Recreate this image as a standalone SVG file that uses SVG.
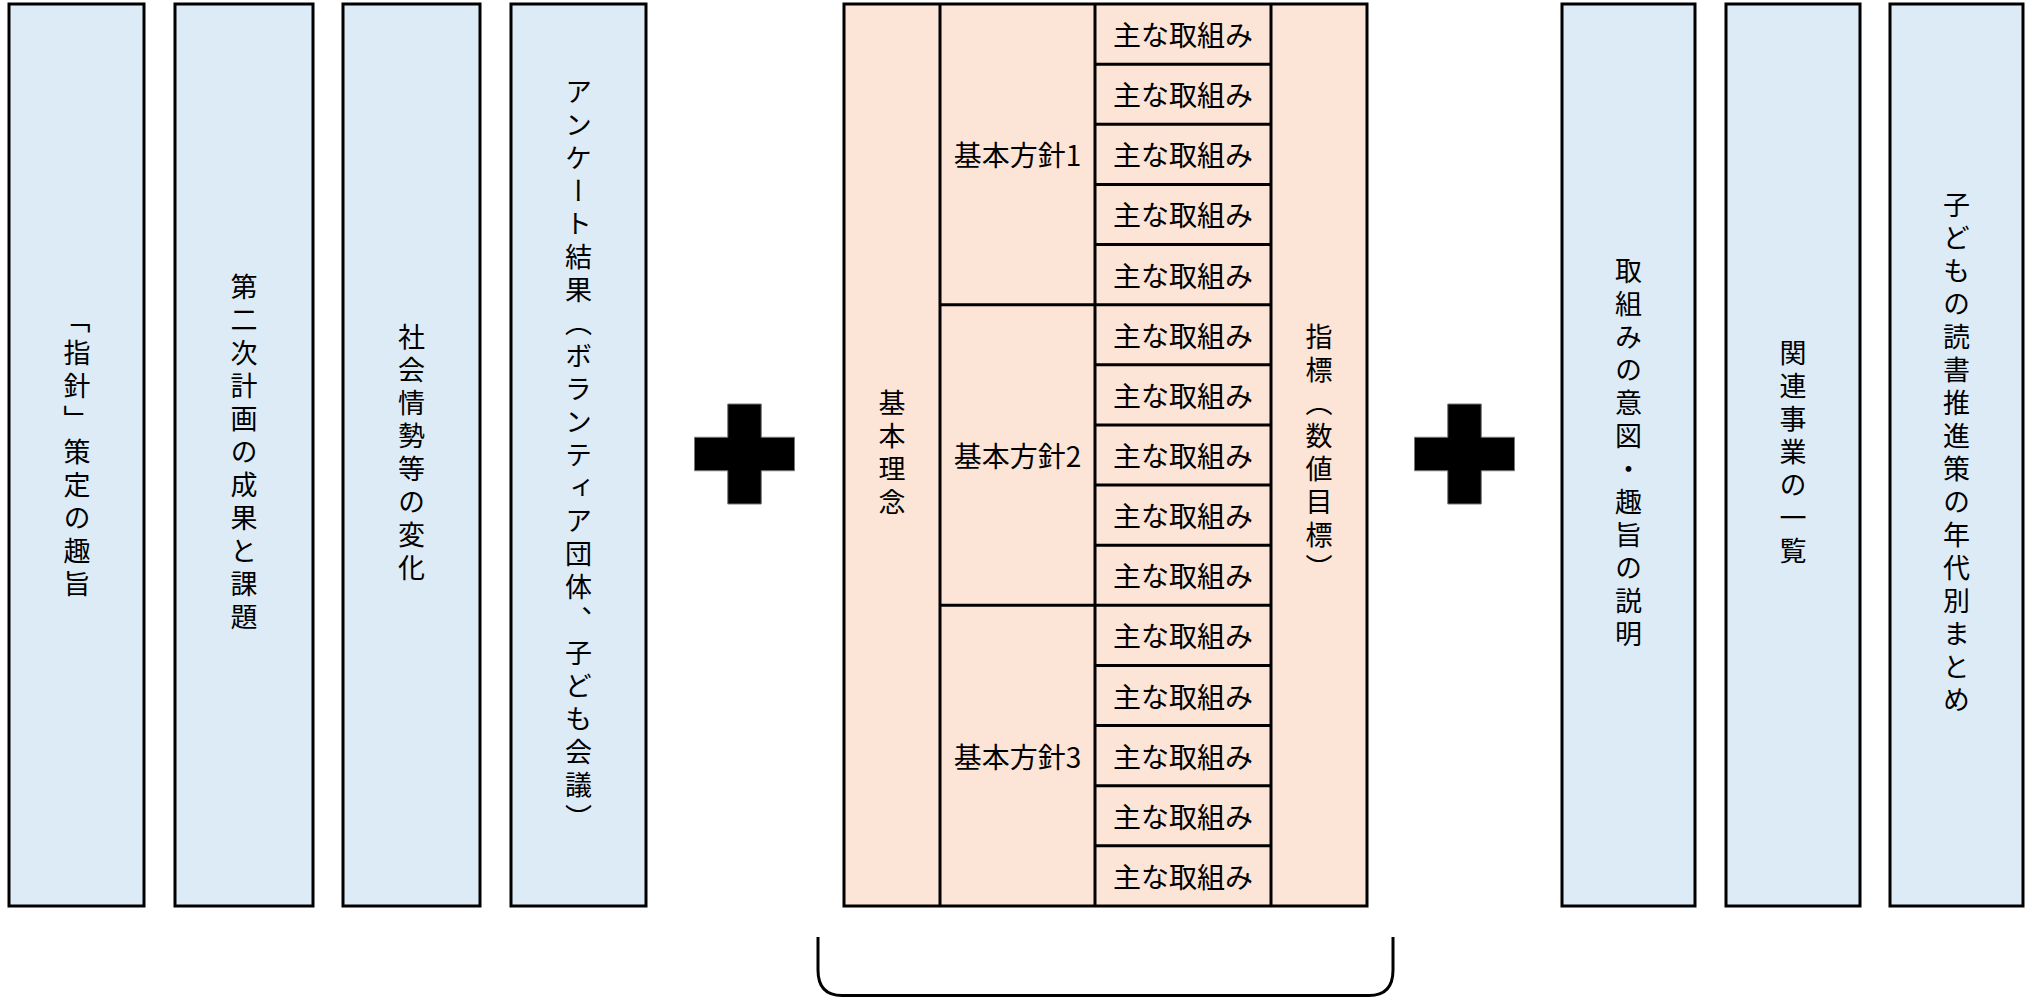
<svg xmlns="http://www.w3.org/2000/svg" width="2035" height="999" viewBox="0 0 2035 999">
<style>
.side{fill:#DDEBF7;stroke:#000;stroke-width:3}
.tbl{fill:#FCE4D6;stroke:#000;stroke-width:3}
.ln{stroke:#000;stroke-width:3;fill:none}
.vt{font-family:"Noto Sans CJK JP","Noto Sans CJK SC",sans-serif;font-size:27px;fill:#000;writing-mode:vertical-rl;letter-spacing:6px;text-anchor:middle}
.ht{font-family:"Noto Sans CJK JP","Noto Sans CJK SC",sans-serif;font-size:28px;fill:#000;text-anchor:middle;dominant-baseline:central}
.plus{fill:#000;stroke:#777;stroke-width:1}
</style>
<rect width="2035" height="999" fill="#fff"/>
<defs>
<polygon id="cross" class="plus" points="-16.75,-50 16.75,-50 16.75,-16.75 50,-16.75 50,16.75 16.75,16.75 16.75,50 -16.75,50 -16.75,16.75 -50,16.75 -50,-16.75 -16.75,-16.75"/>
</defs>

<g id="box-shishin">
<rect class="side" x="9" y="4" width="135" height="902"/>
<text class="vt" x="77" y="455">「指針」策定の趣旨</text>
</g>
<g id="box-dainiji">
<rect class="side" x="175" y="4" width="138" height="902"/>
<text class="vt" x="244" y="455">第二次計画の成果と課題</text>
</g>
<g id="box-shakai">
<rect class="side" x="343" y="4" width="137" height="902"/>
<text class="vt" x="411.5" y="455">社会情勢等の変化</text>
</g>
<g id="box-enquete">
<rect class="side" x="511" y="4" width="135" height="902"/>
<text class="vt" x="578.5" y="458">アンケート結果（ボランティア団体、子ども会議）</text>
</g>

<g id="plus-1"><use href="#cross" x="744.5" y="454"/></g>

<g id="table">
<rect class="tbl" x="844" y="4" width="523" height="902"/>
<g id="kihon-rinen">
<text class="vt" x="892" y="455">基本理念</text>
</g>
<g id="shihyo">
<text class="vt" x="1319" y="455">指標（数値目標）</text>
</g>
<path class="ln" d="M940 4V906M1095 4V906M1271 4V906"/>
<path class="ln" d="M940 304.67H1095M940 605.33H1095"/>
<path class="ln" d="M1095 64.13H1271M1095 124.27H1271M1095 184.4H1271M1095 244.53H1271M1095 304.67H1271M1095 364.8H1271M1095 424.93H1271M1095 485.07H1271M1095 545.2H1271M1095 605.33H1271M1095 665.47H1271M1095 725.6H1271M1095 785.73H1271M1095 845.87H1271"/>
<g id="hoshin-1"><text class="ht" x="1017.5" y="154.3">基本方針1</text></g>
<g id="hoshin-2"><text class="ht" x="1017.5" y="455">基本方針2</text></g>
<g id="hoshin-3"><text class="ht" x="1017.5" y="755.7">基本方針3</text></g>
<g id="torikumi">
<text class="ht" x="1183" y="34.07">主な取組み</text>
<text class="ht" x="1183" y="94.2">主な取組み</text>
<text class="ht" x="1183" y="154.33">主な取組み</text>
<text class="ht" x="1183" y="214.47">主な取組み</text>
<text class="ht" x="1183" y="274.6">主な取組み</text>
<text class="ht" x="1183" y="334.73">主な取組み</text>
<text class="ht" x="1183" y="394.87">主な取組み</text>
<text class="ht" x="1183" y="455">主な取組み</text>
<text class="ht" x="1183" y="515.13">主な取組み</text>
<text class="ht" x="1183" y="575.27">主な取組み</text>
<text class="ht" x="1183" y="635.4">主な取組み</text>
<text class="ht" x="1183" y="695.53">主な取組み</text>
<text class="ht" x="1183" y="755.67">主な取組み</text>
<text class="ht" x="1183" y="815.8">主な取組み</text>
<text class="ht" x="1183" y="875.93">主な取組み</text>
</g>
</g>

<g id="plus-2"><use href="#cross" x="1464.5" y="454"/></g>

<g id="box-ito">
<rect class="side" x="1562" y="4" width="133" height="902"/>
<text class="vt" x="1628.5" y="455">取組みの意図・趣旨の説明</text>
</g>
<g id="box-kanren">
<rect class="side" x="1726" y="4" width="134" height="902"/>
<text class="vt" x="1793" y="455">関連事業の一覧</text>
</g>
<g id="box-nendai">
<rect class="side" x="1890" y="4" width="133" height="902"/>
<text class="vt" x="1956.5" y="455">子どもの読書推進策の年代別まとめ</text>
</g>

<g id="connectors">
<path class="ln" d="M818 937V970Q818 995.5 842 995.5H1369Q1393 995.5 1393 970V937"/>
</g>
</svg>
